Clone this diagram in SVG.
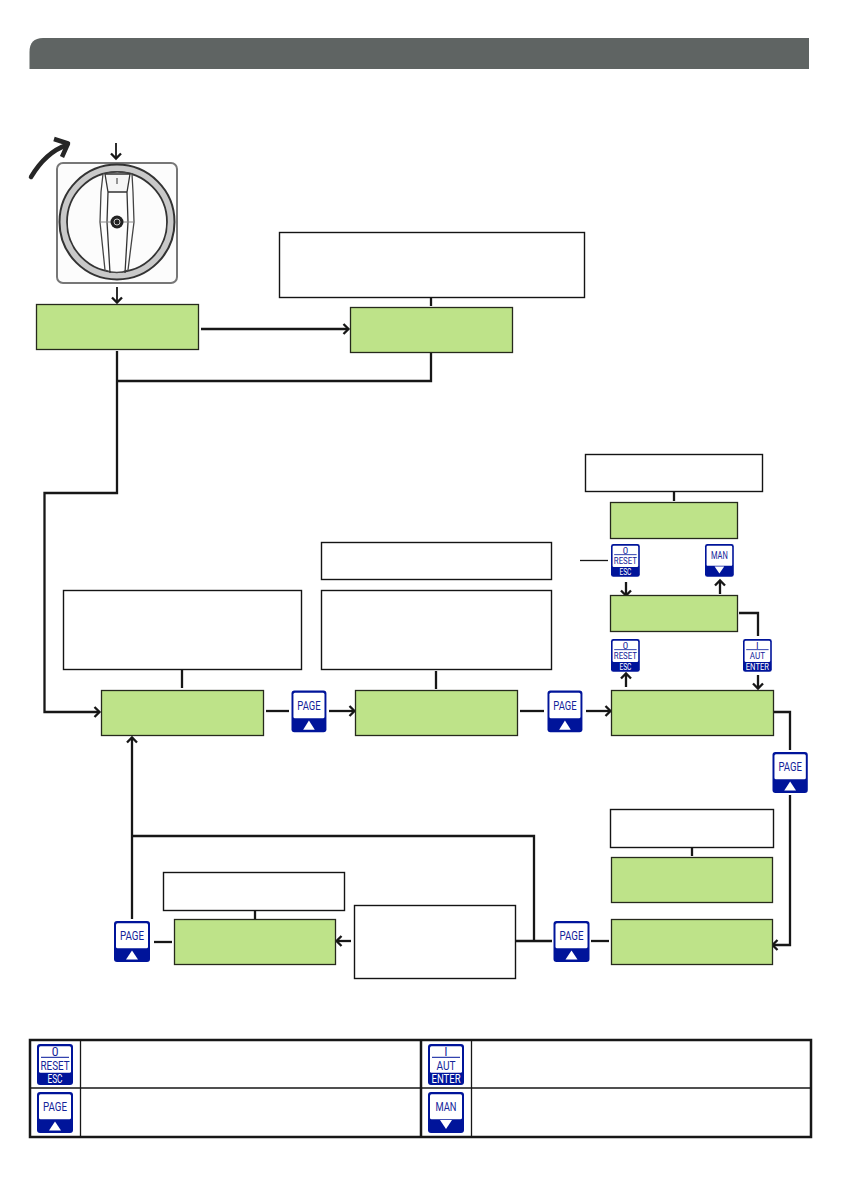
<svg xmlns="http://www.w3.org/2000/svg" width="841" height="1193" viewBox="0 0 841 1193">
<style>
.g{fill:#bee389;stroke:#26291c;stroke-width:1.3}
.w{fill:#fff;stroke:#141414;stroke-width:1.400}
.c{fill:none;stroke:#171717;stroke-width:2.300;stroke-linejoin:miter}
.a{marker-end:url(#ah)}
.bb{fill:#00149a}
.bw{fill:#fff}
.bl{stroke:#00149a;stroke-width:1;fill:none}
.t{font-family:"Roboto","Liberation Sans",sans-serif;text-anchor:middle;fill:#14249a;font-size:13px}
.m{font-size:12px}
.tw{fill:#fff}
</style>
<defs>
<marker id="ah" markerUnits="userSpaceOnUse" markerWidth="12" markerHeight="12" refX="9" refY="6" orient="auto" overflow="visible">
<path d="M4.500,1L9.500,6L4.500,11" fill="none" stroke="#171717" stroke-width="2.300"/>
</marker>
</defs>
<path id="header" d="M29.500,69V52Q29.500,38 43,38H809V69Z" fill="#5f6463"/>
<g id="rotary-switch">
<path d="M31,177C40,162 52,150 67,145" fill="none" stroke="#262626" stroke-width="4.500" stroke-linecap="round"/>
<path d="M54,139L68,143.500L62,157" fill="none" stroke="#262626" stroke-width="4.500" stroke-linejoin="round"/>
<rect x="57" y="163" width="120" height="120" rx="6" fill="#fcfcfc" stroke="#777" stroke-width="2"/>
<circle cx="117" cy="222" r="54" fill="none" stroke="#c9c9c9" stroke-width="7"/>
<circle cx="117" cy="222" r="57.500" fill="none" stroke="#333" stroke-width="2"/>
<circle cx="117" cy="222" r="50" fill="none" stroke="#333" stroke-width="1.800"/>
<path d="M103,174Q117,170 132,174L133,192L134,222L128,270Q117,275 105,270L100,222L101,192Z" fill="#fdfdfd" stroke="#444" stroke-width="1.300"/>
<path d="M105,174H130L127,192H108ZM108,192L107,222L110,273M127,192L128,222L125,273" fill="#f6f6f6" stroke="#333" stroke-width="1.300"/>
<path d="M101,222H133" stroke="#888" stroke-width="1"/>
<path d="M117,178V184" stroke="#333" stroke-width="1"/>
<circle cx="117" cy="222" r="6.500" fill="#222"/>
<circle cx="117" cy="222" r="3" fill="none" stroke="#ccc" stroke-width="1"/>
</g>
<g id="connectors">
<path class="c a" style="stroke-width:1.800" d="M116,143V158"/>
<path class="c a" style="stroke-width:1.800" d="M117,287V302"/>
<path class="c a" d="M201,329H348"/>
<path class="c" d="M431,297V306"/>
<path class="c" d="M431,353V381H117"/>
<path class="c a" d="M117,351V493H44.500V712H99"/>
<path class="c" d="M182,669V688"/>
<path class="c" d="M436,671V689"/>
<path class="c" d="M674,492V501"/>
<path class="c" d="M266,711H289"/>
<path class="c a" d="M329,711H354"/>
<path class="c" d="M520,711H544"/>
<path class="c a" d="M586,711H610"/>
<path class="c" style="stroke-width:1.300" d="M580,560.500H608"/>
<path class="c a" d="M626,582V595"/>
<path class="c a" d="M720,594V581"/>
<path class="c" d="M739,613H758V636"/>
<path class="c a" d="M626,687V674"/>
<path class="c a" d="M758,675V688"/>
<path class="c" d="M774,712H790V750"/>
<path class="c a" d="M790,795V945H773"/>
<path class="c" d="M692,847V856"/>
<path class="c" d="M591,941H609"/>
<path class="c" d="M516,941H552"/>
<path class="c" d="M534,941V836H132"/>
<path class="c a" d="M132,919V738"/>
<path class="c a" d="M351,941H337"/>
<path class="c" d="M255,910V919"/>
<path class="c" d="M154,942H172"/>
</g>
<g id="n1"><rect class="g" x="36.500" y="304.500" width="162" height="45"/></g>
<g id="n2"><rect class="g" x="350.500" y="307.500" width="162" height="45"/></g>
<g id="n3"><rect class="w" x="279.500" y="232.500" width="305" height="65"/></g>
<g id="n4"><rect class="g" x="610.500" y="502.500" width="127" height="36"/></g>
<g id="n5"><rect class="w" x="585.500" y="454.500" width="177" height="37"/></g>
<g id="n6"><rect class="w" x="321.500" y="542.500" width="230" height="37"/></g>
<g id="n7"><rect class="g" x="610.500" y="595.500" width="127" height="36"/></g>
<g id="n8"><rect class="w" x="63.500" y="590.500" width="238" height="79"/></g>
<g id="n9"><rect class="w" x="321.500" y="590.500" width="230" height="79"/></g>
<g id="n10"><rect class="g" x="101.500" y="690.500" width="162" height="45"/></g>
<g id="n11"><rect class="g" x="355.500" y="690.500" width="162" height="45"/></g>
<g id="n12"><rect class="g" x="611.500" y="690.500" width="162" height="45"/></g>
<g id="n13"><rect class="w" x="610.500" y="809.500" width="163" height="38"/></g>
<g id="n14"><rect class="g" x="611.500" y="857.500" width="161" height="45"/></g>
<g id="n15"><rect class="g" x="611.500" y="919.500" width="161" height="45"/></g>
<g id="n16"><rect class="w" x="354.500" y="905.500" width="161" height="73"/></g>
<g id="n17"><rect class="g" x="174.500" y="919.500" width="161" height="45"/></g>
<g id="n18"><rect class="w" x="163.500" y="872.500" width="181" height="38"/></g>
<g id="btn-page-1" transform="translate(291.500,690.500) scale(.97,1.02)"><rect class="bb" width="36" height="41" rx="3"/><rect class="bw" x="2" y="2.300" width="32" height="25" rx="1.500"/><path class="bw" d="M18,29.500L24,38.500H12Z"/><text class="t" x="18" y="19" textLength="24" lengthAdjust="spacingAndGlyphs">PAGE</text></g>
<g id="btn-page-2" transform="translate(547.500,690.500) scale(.97,1.02)"><rect class="bb" width="36" height="41" rx="3"/><rect class="bw" x="2" y="2.300" width="32" height="25" rx="1.500"/><path class="bw" d="M18,29.500L24,38.500H12Z"/><text class="t" x="18" y="19" textLength="24" lengthAdjust="spacingAndGlyphs">PAGE</text></g>
<g id="btn-page-3" transform="translate(772.500,752) scale(.98,1)"><rect class="bb" width="36" height="41" rx="3"/><rect class="bw" x="2" y="2.300" width="32" height="25" rx="1.500"/><path class="bw" d="M18,29.500L24,38.500H12Z"/><text class="t" x="18" y="19" textLength="24" lengthAdjust="spacingAndGlyphs">PAGE</text></g>
<g id="btn-page-4" transform="translate(553.500,921)"><rect class="bb" width="36" height="41" rx="3"/><rect class="bw" x="2" y="2.300" width="32" height="25" rx="1.500"/><path class="bw" d="M18,29.500L24,38.500H12Z"/><text class="t" x="18" y="19" textLength="24" lengthAdjust="spacingAndGlyphs">PAGE</text></g>
<g id="btn-page-5" transform="translate(114,921)"><rect class="bb" width="36" height="41" rx="3"/><rect class="bw" x="2" y="2.300" width="32" height="25" rx="1.500"/><path class="bw" d="M18,29.500L24,38.500H12Z"/><text class="t" x="18" y="19" textLength="24" lengthAdjust="spacingAndGlyphs">PAGE</text></g>
<g id="btn-reset-1" transform="translate(611,544) scale(.8,.8)"><rect class="bb" width="36" height="41" rx="3"/><rect class="bw" x="2" y="2.300" width="32" height="26.500" rx="1.500"/><path class="bl" d="M4,13.300H32"/><text class="t m" x="18" y="12">0</text><text class="t m" x="18" y="25.500" textLength="29" lengthAdjust="spacingAndGlyphs">RESET</text><text class="t m tw" x="18" y="38.500" textLength="15" lengthAdjust="spacingAndGlyphs">ESC</text></g>
<g id="btn-man-1" transform="translate(705,544) scale(.8,.8)"><rect class="bb" width="36" height="41" rx="3"/><rect class="bw" x="2" y="2.300" width="32" height="25" rx="1.500"/><path class="bw" d="M12,28H24L18,37Z"/><text class="t" x="18" y="19" textLength="21" lengthAdjust="spacingAndGlyphs">MAN</text></g>
<g id="btn-reset-2" transform="translate(611,639) scale(.8,.8)"><rect class="bb" width="36" height="41" rx="3"/><rect class="bw" x="2" y="2.300" width="32" height="26.500" rx="1.500"/><path class="bl" d="M4,13.300H32"/><text class="t m" x="18" y="12">0</text><text class="t m" x="18" y="25.500" textLength="29" lengthAdjust="spacingAndGlyphs">RESET</text><text class="t m tw" x="18" y="38.500" textLength="15" lengthAdjust="spacingAndGlyphs">ESC</text></g>
<g id="btn-aut-1" transform="translate(743,639) scale(.8,.8)"><rect class="bb" width="36" height="41" rx="3"/><rect class="bw" x="2" y="2.300" width="32" height="26.500" rx="1.500"/><path class="bl" d="M4,13.300H32"/><text class="t m" x="18" y="12">I</text><text class="t m" x="18" y="25.500" textLength="19" lengthAdjust="spacingAndGlyphs">AUT</text><text class="t m tw" x="18" y="38.500" textLength="29" lengthAdjust="spacingAndGlyphs">ENTER</text></g>
<g id="legend">
<rect x="30" y="1040" width="781" height="97" fill="#fff" stroke="#171717" stroke-width="2.500"/>
<path d="M30,1088H811M80.500,1040V1137M471.500,1040V1137" fill="none" stroke="#171717" stroke-width="1.300"/>
<path d="M421,1040V1137" fill="none" stroke="#171717" stroke-width="2.500"/>
</g>
<g id="legend-reset" transform="translate(37,1044)"><rect class="bb" width="36" height="41" rx="3"/><rect class="bw" x="2" y="2.300" width="32" height="26.500" rx="1.500"/><path class="bl" d="M4,13.300H32"/><text class="t m" x="18" y="12">0</text><text class="t m" x="18" y="25.500" textLength="29" lengthAdjust="spacingAndGlyphs">RESET</text><text class="t m tw" x="18" y="38.500" textLength="15" lengthAdjust="spacingAndGlyphs">ESC</text></g>
<g id="legend-page" transform="translate(37,1092)"><rect class="bb" width="36" height="41" rx="3"/><rect class="bw" x="2" y="2.300" width="32" height="25" rx="1.500"/><path class="bw" d="M18,29.500L24,38.500H12Z"/><text class="t" x="18" y="19" textLength="24" lengthAdjust="spacingAndGlyphs">PAGE</text></g>
<g id="legend-aut" transform="translate(428,1044)"><rect class="bb" width="36" height="41" rx="3"/><rect class="bw" x="2" y="2.300" width="32" height="26.500" rx="1.500"/><path class="bl" d="M4,13.300H32"/><text class="t m" x="18" y="12">I</text><text class="t m" x="18" y="25.500" textLength="19" lengthAdjust="spacingAndGlyphs">AUT</text><text class="t m tw" x="18" y="38.500" textLength="29" lengthAdjust="spacingAndGlyphs">ENTER</text></g>
<g id="legend-man" transform="translate(428,1092)"><rect class="bb" width="36" height="41" rx="3"/><rect class="bw" x="2" y="2.300" width="32" height="25" rx="1.500"/><path class="bw" d="M12,28H24L18,37Z"/><text class="t" x="18" y="19" textLength="21" lengthAdjust="spacingAndGlyphs">MAN</text></g>
</svg>
